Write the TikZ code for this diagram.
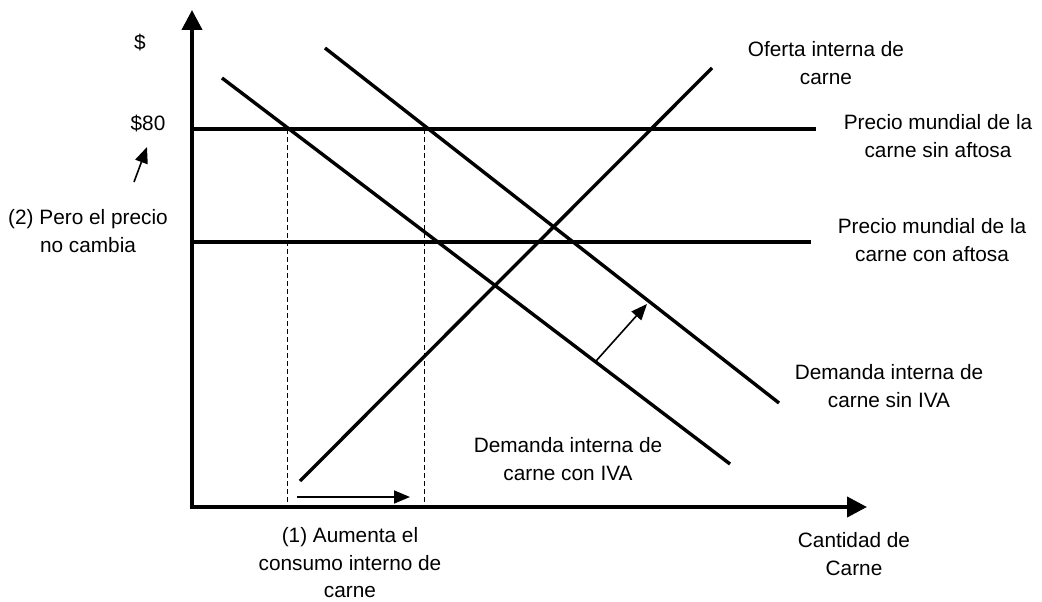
\documentclass[tikz,border=0pt]{standalone}
\usepackage{fontspec}
\setmainfont{Liberation Sans}
\usetikzlibrary{arrows.meta}
\begin{document}
\begin{tikzpicture}[x=1pt,y=-1pt,
  lbl/.style={align=center,font=\fontsize{20.8}{27.5}\selectfont,inner sep=0pt},
  myaxis/.style={line width=4pt,-{Triangle[width=20pt,length=20pt]}},
  mycurve/.style={line width=3.4pt},
  myguide/.style={line width=0.9pt,dash pattern=on 5pt off 3pt},
  shiftarrow/.style={line width=1.6pt,-{Triangle[width=13pt,length=16pt]}}]
\useasboundingbox (0,0) rectangle (1042,602);
% axes
\coordinate (O) at (192,507);
\coordinate (Ytop) at (192,10);
\coordinate (Xend) at (867,507);
\coordinate (Ybot) at (192,509);
\coordinate (Xbeg) at (190,507);
\draw[myaxis] (Ybot) -- (Ytop);
\draw[myaxis] (Xbeg) -- (Xend);
% world prices
\coordinate (P1a) at (192,129); \coordinate (P1b) at (816,129);
\coordinate (P2a) at (192,242); \coordinate (P2b) at (811,242);
\draw[mycurve] (P1a) -- (P1b);
\draw[mycurve] (P2a) -- (P2b);
% demand curves
\coordinate (D1a) at (222,78); \coordinate (D1b) at (730,464);
\coordinate (D2a) at (325,48); \coordinate (D2b) at (779,403);
\draw[mycurve] (D1a) -- (D1b);
\draw[mycurve] (D2a) -- (D2b);
% supply
\coordinate (Sa) at (300,481); \coordinate (Sb) at (712,68);
\draw[mycurve] (Sa) -- (Sb);
% dashed guides
\coordinate (G1t) at (287,129); \coordinate (G1b) at (287,507);
\coordinate (G2t) at (424,129); \coordinate (G2b) at (424,507);
\draw[myguide] (G1t) -- (G1b);
\draw[myguide] (G2t) -- (G2b);
% shift arrows
\coordinate (A1s) at (297,497); \coordinate (A1e) at (410,497);
\draw[shiftarrow] (A1s) -- (A1e);
\coordinate (A2s) at (596,361); \coordinate (A2e) at (647,304);
\draw[shiftarrow] (A2s) -- (A2e);
\coordinate (A3s) at (134,182); \coordinate (A3e) at (147,147);
\draw[shiftarrow] (A3s) -- (A3e);
% labels
\node[lbl] (dollar) at (140,43) {\$};
\node[lbl] (p80) at (148,124) {\$80};
\node[lbl] (pero) at (88,231) {(2) Pero el precio\\no cambia};
\node[lbl] (oferta) at (826,63) {Oferta interna de\\carne};
\node[lbl] (sinaft) at (938,136) {Precio mundial de la\\carne sin aftosa};
\node[lbl] (conaft) at (932,240) {Precio mundial de la\\carne con aftosa};
\node[lbl] (dsin) at (889,386) {Demanda interna de\\carne sin IVA};
\node[lbl] (dcon) at (568,459) {Demanda interna de\\carne con IVA};
\node[lbl] (aumenta) at (350,563) {(1) Aumenta el\\consumo interno de\\carne};
\node[lbl] (cant) at (854,554) {Cantidad de\\Carne};
\end{tikzpicture}
\end{document}
